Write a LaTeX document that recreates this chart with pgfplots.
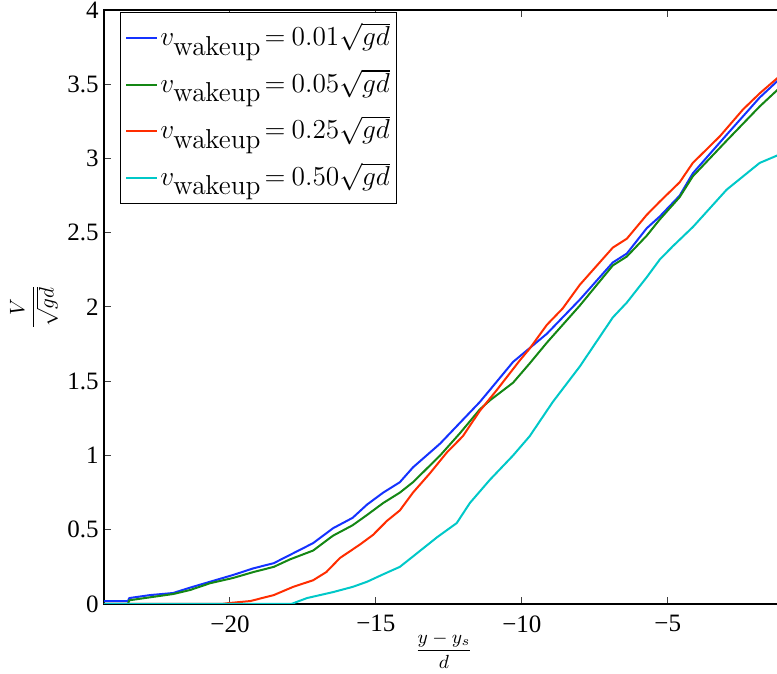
\RequirePackage{fix-cm}
\documentclass[border=0pt]{standalone}
\usepackage[no-math]{fontspec}
\setmainfont{Liberation Serif}
\newfontfamily\tickfont{Liberation Serif}
\usepackage{pgfplots}
\pgfplotsset{compat=1.18}
\definecolor{cblue}{RGB}{20,50,255}
\definecolor{cgreen}{RGB}{20,135,20}
\definecolor{cred}{RGB}{255,45,0}
\definecolor{ccyan}{RGB}{0,200,200}
\begin{document}
\begin{tikzpicture}
\begin{axis}[
  name=ax,
  scale only axis,
  width=354.8pt, height=297pt,
  xmin=-24.318, xmax=0, ymin=0, ymax=4,
  axis line style={line width=0.8pt},
  tick align=inside,
  major tick length=3.5pt,
  tick style={black!75, line width=0.5pt},
  xtick={-20,-15,-10,-5},
  xticklabels={−20,−15,−10,−5},
  ytick={0,0.5,1,1.5,2,2.5,3,3.5,4},
  yticklabels={0,0.5,1,1.5,2,2.5,3,3.5,4},
  tick label style={font=\tickfont\fontsize{12.5}{14}\selectfont, inner sep=0pt},
  xticklabel style={yshift=-5.5pt},
  yticklabel style={xshift=-2.5pt},
  every axis x label/.style={at={(axis description cs:0,0)}, xshift=170pt, yshift=-23pt, anchor=center},
  every axis y label/.style={at={(axis description cs:0,0.5)}, xshift=-35pt, rotate=90, anchor=center},
  xlabel={\fontsize{9.5}{11}\selectfont$\displaystyle\frac{y-y_s}{d}$},
  ylabel={\fontsize{10.5}{12}\selectfont$\displaystyle\frac{V}{\sqrt{gd}}$},
  legend cell align=left,
  legend image code/.code={\draw[#1] (0pt,0pt) -- (15.5pt,0pt);},
  legend style={at={(axis description cs:0,1)}, xshift=8pt, yshift=-1pt, anchor=north west,
    draw=black, line width=0.5pt, inner xsep=2.5pt, inner ysep=1.15pt,
    font=\fontsize{13.7}{15}\selectfont,
    nodes={inner xsep=1pt, inner ysep=2pt, text height=13.35pt, text depth=5.95pt}},
  every axis plot/.append style={line width=1pt, line join=round},
]
\addplot[cblue] coordinates {
(-24.32,0.02) (-23.5,0.02) (-23.45,0.04) (-22.74,0.06) (-21.95,0.074) (-21.37,0.11) (-20.68,0.15)
(-19.9,0.195) (-19.2,0.24) (-18.5,0.275) (-17.95,0.33) (-17.15,0.41) (-16.47,0.51) (-15.8,0.58)
(-15.3,0.67) (-14.75,0.75) (-14.18,0.82) (-13.73,0.92) (-12.8,1.08) (-12.12,1.22) (-11.44,1.36)
(-11.1,1.44) (-10.3,1.63) (-9.14,1.82) (-8.01,2.05) (-6.88,2.30) (-6.4,2.36) (-5.72,2.53)
(-5.27,2.61) (-4.59,2.75) (-4.14,2.90) (-2.98,3.16) (-1.85,3.41) (-1.25,3.52) (-1.0,3.56)
};
\addlegendentry{$v_{\textstyle\mathrm{wakeup}}\mkern2mu{=}\mkern4mu 0.01\sqrt{gd}$}
\addplot[cgreen] coordinates {
(-24.32,0) (-23.5,0) (-23.45,0.025) (-22.74,0.045) (-21.95,0.067) (-21.37,0.094) (-20.68,0.14)
(-19.9,0.175) (-19.2,0.215) (-18.5,0.25) (-17.95,0.30) (-17.15,0.36) (-16.47,0.46) (-15.8,0.53)
(-15.3,0.60) (-14.75,0.68) (-14.18,0.75) (-13.73,0.82) (-12.8,1.0) (-12.12,1.15) (-11.44,1.31)
(-11.1,1.37) (-10.3,1.49) (-9.73,1.62) (-9.14,1.76) (-8.01,2.01) (-6.88,2.28) (-6.4,2.34)
(-5.72,2.48) (-5.27,2.59) (-4.59,2.74) (-4.14,2.88) (-2.98,3.12) (-1.85,3.35) (-1.25,3.46) (-1.0,3.50)
};
\addlegendentry{$v_{\textstyle\mathrm{wakeup}}\mkern2mu{=}\mkern4mu 0.05\sqrt{gd}$}
\addplot[cred] coordinates {
(-24.32,0) (-20.3,0) (-20,0.007) (-19.3,0.02) (-18.5,0.06) (-17.84,0.115) (-17.15,0.16)
(-16.7,0.215) (-16.23,0.31) (-15.55,0.40) (-15.1,0.465) (-14.62,0.56) (-14.18,0.63) (-13.73,0.75)
(-13.15,0.88) (-12.57,1.02) (-12.02,1.13) (-11.44,1.30) (-10.86,1.44) (-10.07,1.64) (-9.73,1.72)
(-9.14,1.88) (-8.6,1.99) (-8.01,2.15) (-6.88,2.40) (-6.4,2.46) (-5.72,2.62) (-5.27,2.71)
(-4.59,2.84) (-4.14,2.97) (-3.21,3.15) (-2.42,3.33) (-1.84,3.44) (-1.25,3.54) (-1.0,3.58)
};
\addlegendentry{$v_{\textstyle\mathrm{wakeup}}\mkern2mu{=}\mkern4mu 0.25\sqrt{gd}$}
\addplot[ccyan] coordinates {
(-24.32,0) (-17.9,0) (-17.36,0.04) (-16.47,0.08) (-15.8,0.115) (-15.3,0.15) (-14.75,0.20)
(-14.18,0.25) (-13.73,0.32) (-12.9,0.45) (-12.23,0.545) (-11.78,0.68) (-11.1,0.835) (-10.3,1.0)
(-9.73,1.13) (-8.94,1.36) (-8.01,1.60) (-6.88,1.93) (-6.4,2.03) (-5.72,2.20) (-5.27,2.32)
(-4.82,2.41) (-4.13,2.54) (-2.98,2.79) (-1.85,2.97) (-1.25,3.02) (-1.0,3.04)
};
\addlegendentry{$v_{\textstyle\mathrm{wakeup}}\mkern2mu{=}\mkern4mu 0.50\sqrt{gd}$}
\end{axis}
\pgfresetboundingbox
\path[use as bounding box] (ax.south west) ++(-52pt,-35pt) rectangle ++(388.5pt,337pt);
\end{tikzpicture}
\end{document}
